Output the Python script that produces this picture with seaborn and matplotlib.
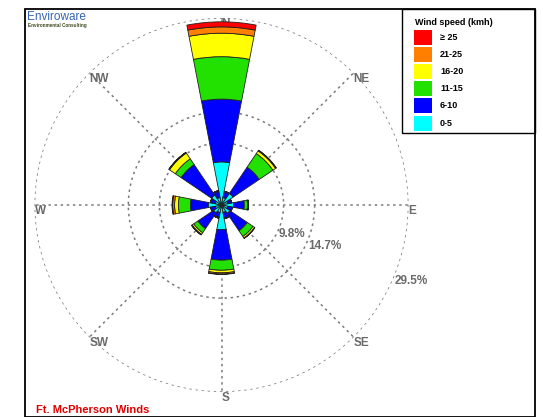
import numpy as np
import matplotlib
matplotlib.use("Agg")
import matplotlib.pyplot as plt
import seaborn as sns
import pandas as pd
from matplotlib.patches import Rectangle

# ---------------- data (percent of time) ----------------
directions = ["N", "NNE", "NE", "ENE", "E", "ESE", "SE", "SSE",
              "S", "SSW", "SW", "WSW", "W", "WNW", "NW", "NNW"]
speed_classes = ["0-5", "6-10", "11-15", "16-20", "21-25", "\u2265 25"]
class_colors = ["#00ffff", "#0000ff", "#22e000", "#ffff00", "#ff8000", "#ff0000"]

speed_0_5 = [6.8, 1.2, 2.2, 1.0, 1.9, 1.0, 1.6, 1.2, 3.9, 1.2, 1.5, 1.0, 2.1, 1.0, 1.9, 1.2]
speed_6_10 = [9.9, 0.9, 5.0, 0.6, 1.7, 0.7, 3.3, 0.9, 4.8, 0.8, 3.0, 0.7, 2.8, 0.7, 5.8, 1.0]
speed_11_15 = [6.7, 0.1, 2.6, 0.05, 0.5, 0.05, 1.1, 0.1, 1.6, 0.1, 0.8, 0.05, 1.9, 0.1, 1.1, 0.1]
speed_16_20 = [3.7, 0.0, 0.5, 0.0, 0.15, 0.0, 0.3, 0.0, 0.4, 0.0, 0.3, 0.0, 0.6, 0.0, 1.1, 0.0]
speed_21_25 = [1.0, 0.0, 0.1, 0.0, 0.0, 0.0, 0.05, 0.0, 0.2, 0.0, 0.1, 0.0, 0.3, 0.0, 0.1, 0.0]
speed_25_up = [0.8, 0.0, 0.05, 0.0, 0.0, 0.0, 0.0, 0.0, 0.05, 0.0, 0.0, 0.0, 0.1, 0.0, 0.05, 0.0]

ring_values = [9.8, 14.7, 29.5]
compass_labels = ["N", "NE", "E", "SE", "S", "SW", "W", "NW"]
title_text = "Ft. McPherson Winds"
legend_title = "Wind speed (kmh)"

df = pd.DataFrame({"direction": directions,
                   "0-5": speed_0_5, "6-10": speed_6_10, "11-15": speed_11_15,
                   "16-20": speed_16_20, "21-25": speed_21_25, "\u2265 25": speed_25_up})

# ---------------- style ----------------
sns.set_theme(style="white")
plt.rcParams["font.family"] = ["Liberation Sans", "DejaVu Sans"]

W, H = 543, 417
fig = plt.figure(figsize=(W / 100, H / 100), dpi=100)
fig.patch.set_facecolor("white")

cx, cy, R = 221.5, 205.0, 187.0
ax = fig.add_axes([(cx - R) / W, (H - cy - R) / H, 2 * R / W, 2 * R / H], projection="polar")
ax.set_theta_zero_location("N")
ax.set_theta_direction(-1)
ax.set_ylim(0, ring_values[-1])
ax.spines["polar"].set_visible(False)
ax.set_facecolor("none")
ax.grid(False)
ax.set_xticks([])
ax.set_yticks([])

grid_col = "#7a7a7a"
dash = (0, (1.6, 2.4))
full = np.linspace(0, 2 * np.pi, 400)
for r in ring_values:
    ax.plot(full, np.full_like(full, r), color=grid_col, lw=1.1, ls=dash, zorder=1)
for k in range(len(compass_labels)):
    th = np.deg2rad(k * 45)
    ax.plot([th, th], [0, ring_values[-1]], color=grid_col, lw=1.1, ls=dash, zorder=1)

# stacked wind-rose bars
theta = np.deg2rad(np.arange(len(directions)) * 360 / len(directions))
width = np.deg2rad(360 / len(directions)) * 0.97
bottom = np.zeros(len(directions))
for cls, col in zip(speed_classes, class_colors):
    vals = df[cls].to_numpy()
    ax.bar(theta, vals, width=width, bottom=bottom, color=col,
           edgecolor="#202020", linewidth=0.6, zorder=2)
    bottom = bottom + vals

lab_kw = dict(color="#6a6a6a", fontsize=8.5, fontweight="bold", ha="left", va="top")
for k, lab in enumerate(compass_labels):
    ax.text(np.deg2rad(k * 45), ring_values[-1], lab, zorder=1.5 if lab == "N" else 4, **lab_kw)
for r in ring_values:
    ax.text(np.deg2rad(112), r, f"{r}%", zorder=4, **lab_kw)

# ---------------- frame, logo, title ----------------
fig.add_artist(Rectangle((25 / W, 0.5 / H), (535 - 25) / W, (416.5 - 9) / H,
                         transform=fig.transFigure, fill=False, edgecolor="black", lw=1.3))
fig.text(27 / W, 1 - 10.5 / H, "Enviroware", color="#3565b5", fontsize=8.5, va="top", ha="left")
fig.text(27.5 / W, 1 - 23.5 / H, "Environmental Consulting", color="#3a4a20",
         fontsize=3.3, va="top", ha="left", fontweight="bold")
fig.text(36 / W, 1 - 410 / H, title_text, color="#e00000", fontsize=8,
         fontweight="bold", va="center", ha="left")

# ---------------- legend ----------------
fig.add_artist(Rectangle((402 / W, 1 - 133 / H), (535 - 402) / W, (133 - 9) / H,
                         transform=fig.transFigure, fill=False, edgecolor="black", lw=1.0))
fig.text(415 / W, 1 - 22.5 / H, legend_title, fontsize=6.5, fontweight="bold",
         va="center", ha="left", color="black")
for i, (cls, col) in enumerate(zip(speed_classes[::-1], class_colors[::-1])):
    top = 29.5 + i * 17.2
    fig.add_artist(Rectangle((414 / W, 1 - (top + 15) / H), 18 / W, 15 / H,
                             transform=fig.transFigure, facecolor=col, edgecolor="none"))
    fig.text(440 / W, 1 - (top + 7.5) / H, cls, fontsize=6.5, fontweight="bold",
             va="center", ha="left", color="black")

fig.savefig("out.png", dpi=100)
